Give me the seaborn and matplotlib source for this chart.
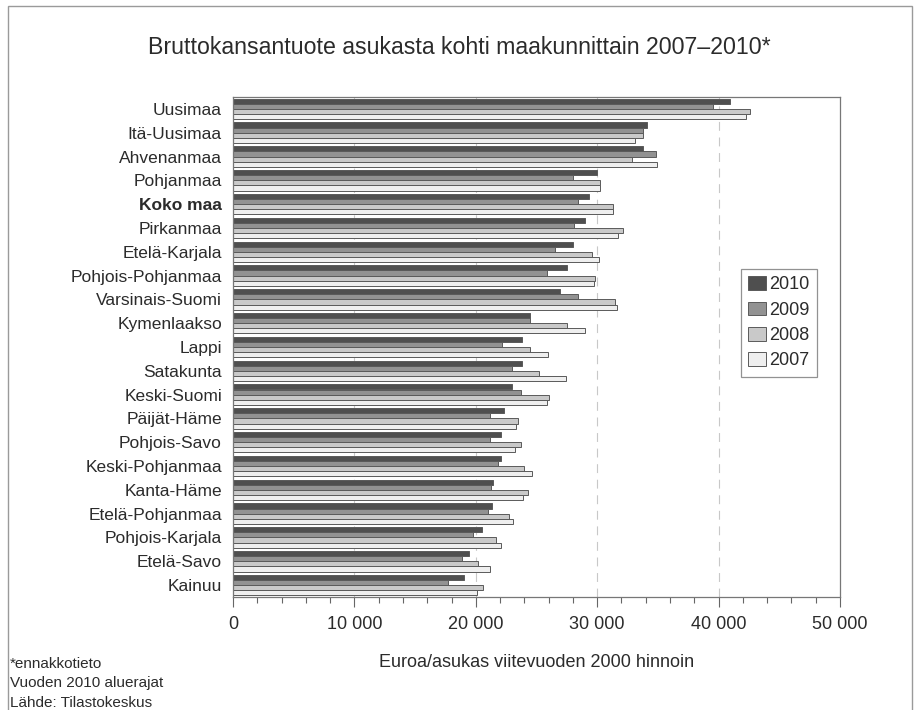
import numpy as np
import pandas as pd
import matplotlib
matplotlib.use("Agg")
import matplotlib.pyplot as plt
import seaborn as sns
from matplotlib.patches import Rectangle, Patch
from matplotlib.ticker import MultipleLocator, FuncFormatter

# Regions, top to bottom as in the chart
regions = [
    "Uusimaa", "Itä-Uusimaa", "Ahvenanmaa", "Pohjanmaa", "Koko maa",
    "Pirkanmaa", "Etelä-Karjala", "Pohjois-Pohjanmaa", "Varsinais-Suomi",
    "Kymenlaakso", "Lappi", "Satakunta", "Keski-Suomi", "Päijät-Häme",
    "Pohjois-Savo", "Keski-Pohjanmaa", "Kanta-Häme", "Etelä-Pohjanmaa",
    "Pohjois-Karjala", "Etelä-Savo", "Kainuu",
]

# Euro per inhabitant, reference year 2000 prices
gdp_2010 = [40900, 34100, 33800, 30000, 29300, 29000, 28000, 27550, 26950,
            24450, 23800, 23800, 22950, 22300, 22100, 22050, 21400, 21350,
            20500, 19450, 19000]
gdp_2009 = [39500, 33800, 34850, 28000, 28450, 28100, 26500, 25900, 28450,
            24500, 22150, 22950, 23700, 21200, 21150, 21850, 21250, 21000,
            19750, 18850, 17750]
gdp_2008 = [42550, 33800, 32900, 30250, 31300, 32150, 29600, 29800, 31450,
            27550, 24500, 25200, 26050, 23500, 23750, 23950, 24300, 22750,
            21700, 20200, 20600]
gdp_2007 = [42250, 33100, 34950, 30200, 31300, 31750, 30150, 29750, 31650,
            29000, 25950, 27450, 25900, 23300, 23250, 24650, 23850, 23100,
            22100, 21200, 20100]

years = ["2010", "2009", "2008", "2007"]
colors = {"2010": "#4f4f4f", "2009": "#929292", "2008": "#c9c9c9", "2007": "#efefef"}

df = pd.DataFrame({
    "Maakunta": regions * 4,
    "Vuosi": ["2010"] * 21 + ["2009"] * 21 + ["2008"] * 21 + ["2007"] * 21,
    "BKT": gdp_2010 + gdp_2009 + gdp_2008 + gdp_2007,
})

sns.set_style("white")
plt.rcParams["font.family"] = ["Liberation Sans", "DejaVu Sans"]
text_col = "#2b2b2b"

fig = plt.figure(figsize=(9.19, 7.10), dpi=100)
ax = fig.add_axes([233 / 919, 1 - 597 / 710, 607 / 919, 500 / 710])

sns.barplot(data=df, y="Maakunta", x="BKT", hue="Vuosi", hue_order=years,
            order=regions, palette=colors, orient="h", width=0.86,
            edgecolor="#5a5a5a", linewidth=0.7, ax=ax, legend=False)

ax.set_xlim(0, 50000)
ax.xaxis.set_major_locator(MultipleLocator(10000))
ax.xaxis.set_minor_locator(MultipleLocator(2000))
ax.xaxis.set_major_formatter(FuncFormatter(lambda v, p: f"{int(v):,}".replace(",", " ")))
ax.tick_params(axis="x", which="major", direction="out", length=7, width=0.8,
               color="#666666", labelsize=13, labelcolor=text_col, pad=7, bottom=True)
ax.tick_params(axis="x", which="minor", direction="out", length=4, width=0.8,
               color="#666666", bottom=True)
ax.tick_params(axis="y", length=0, labelsize=12.5, labelcolor=text_col, pad=8)

for v in [10000, 20000, 30000, 40000]:
    ax.axvline(v, color="#c8c8c8", lw=0.8, ls=(0, (8, 6)), zorder=0)

for s in ax.spines.values():
    s.set_visible(True)
    s.set_color("#777777")
    s.set_linewidth(0.9)

ax.set_ylabel("")
ax.set_xlabel("Euroa/asukas viitevuoden 2000 hinnoin", fontsize=13,
              color=text_col, labelpad=15)

for lbl in ax.get_yticklabels():
    if lbl.get_text() == "Koko maa":
        lbl.set_fontweight("bold")

handles = [Patch(facecolor=colors[y], edgecolor="#5a5a5a", linewidth=0.7, label=y)
           for y in years]
leg = ax.legend(handles=handles, loc="upper left", bbox_to_anchor=(508 / 607, 1 - 172 / 500),
                fontsize=13, frameon=True, fancybox=False, handlelength=1.0,
                handleheight=0.8, handletextpad=0.15, labelspacing=0.45,
                borderpad=0.4, borderaxespad=0)
leg.get_frame().set_edgecolor("#777777")
leg.get_frame().set_linewidth(0.9)
for t in leg.get_texts():
    t.set_color(text_col)

fig.text(0.5, 1 - 48 / 710, "Bruttokansantuote asukasta kohti maakunnittain 2007–2010*",
         ha="center", va="center", fontsize=16.7, color=text_col)

for i, line in enumerate(["*ennakkotieto", "Vuoden 2010 aluerajat", "Lähde: Tilastokeskus"]):
    fig.text(10 / 919, 1 - (664 + 19.5 * i) / 710, line, ha="left", va="center",
             fontsize=11, color=text_col)

fig.patches.append(Rectangle((8 / 919, -0.05), 904 / 919, 1.05 - 6 / 710,
                             transform=fig.transFigure, fill=False,
                             edgecolor="#9a9a9a", linewidth=1.0))

fig.savefig("out.png", dpi=100)
